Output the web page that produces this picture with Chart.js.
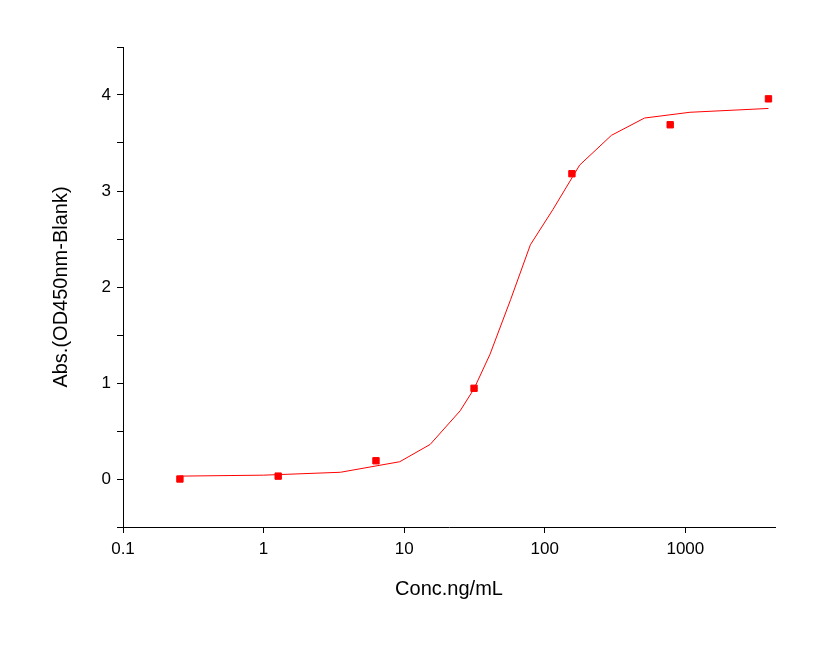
<!DOCTYPE html>
<html>
<head>
<script src="https://cdn.jsdelivr.net/npm/chart.js@4"></script>
<style>body{margin:0;background:#fff}#c{display:block}</style>
</head>
<body>
<canvas id="c" width="825" height="656"></canvas>
<script>
// measured points
const concs = [0.254, 1.27, 6.3, 31.4, 156, 780, 3900];
const absVals = [0.0, 0.03, 0.19, 0.945, 3.18, 3.69, 3.96];
// fitted curve
const curveX = [0.254, 1.0, 3.52, 9.3, 15.3, 25, 31.4, 40.8, 57.2, 79, 114.6, 177, 298, 512, 1078, 3900];
const curveY = [0.03, 0.04, 0.07, 0.18, 0.36, 0.71, 0.94, 1.30, 1.87, 2.44, 2.81, 3.27, 3.58, 3.76, 3.82, 3.86];
const decadeTicks = [0.1, 1, 10, 100, 1000];

const font = 'Arial, "Liberation Sans", sans-serif';
new Chart(document.getElementById('c'), {
    type: 'scatter',
    data: {
        datasets: [{
            type: 'line',
            data: curveX.map((x, i) => ({x: x, y: curveY[i]})),
            borderColor: '#ff0000',
            borderWidth: 1,
            pointRadius: 0,
            tension: 0
        }, {
            data: concs.map((x, i) => ({x: x, y: absVals[i]})),
            backgroundColor: '#ff0000',
            borderColor: '#ff0000',
            pointStyle: 'rect',
            pointRadius: 4.5
        }]
    },
    options: {
        responsive: false,
        animation: false,
        layout: {padding: {top: 47, right: 50, left: 45, bottom: 51}},
        plugins: {legend: {display: false}, tooltip: {enabled: false}},
        scales: {
            x: {
                type: 'logarithmic',
                min: 0.1, max: 4340,
                afterBuildTicks: s => { s.ticks = decadeTicks.map(v => ({value: v})); },
                afterFit: s => { s.height = 78; },
                border: {color: '#000', width: 1},
                grid: {display: true, drawOnChartArea: false, color: '#000', tickLength: 6},
                ticks: {color: '#000', font: {family: font, size: 17}, padding: 6,
                    callback: v => String(v)},
                title: {display: true, text: 'Conc.ng/mL', color: '#000', font: {family: font, size: 20}}
            },
            y: {
                min: -0.5, max: 4.5,
                afterFit: s => { s.width = 78; },
                border: {color: '#000', width: 1},
                grid: {display: true, drawOnChartArea: false, color: '#000', tickLength: 6},
                ticks: {stepSize: 0.5, color: '#000', font: {family: font, size: 17}, padding: 6,
                    callback: v => Number.isInteger(v) ? String(v) : ''},
                title: {display: true, text: 'Abs.(OD450nm-Blank)', color: '#000', font: {family: font, size: 20}}
            }
        }
    }
});
</script>
</body>
</html>
